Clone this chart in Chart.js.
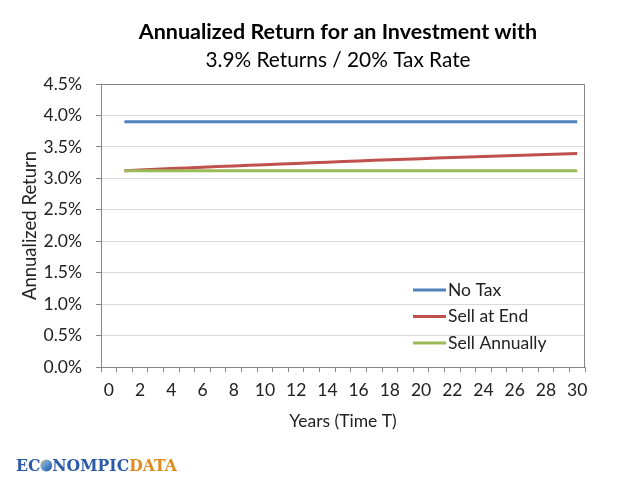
<!DOCTYPE html>
<html>
<head>
<meta charset="utf-8">
<script src="https://cdn.jsdelivr.net/npm/chart.js@4.4.1/dist/chart.umd.min.js"></script>
<style>
  html, body { margin: 0; padding: 0; background: #fff; }
  #wrap { width: 640px; height: 477px; position: relative; }
</style>
</head>
<body>
<div id="wrap"><canvas id="returnChart"></canvas></div>
<script>
// Datos (en %)
const years = ['0','1','2','3','4','5','6','7','8','9','10','11','12','13','14','15',
  '16','17','18','19','20','21','22','23','24','25','26','27','28','29','30'];

const noTax = [null, 3.90, 3.90, 3.90, 3.90, 3.90, 3.90, 3.90, 3.90, 3.90, 3.90,
  3.90, 3.90, 3.90, 3.90, 3.90, 3.90, 3.90, 3.90, 3.90, 3.90,
  3.90, 3.90, 3.90, 3.90, 3.90, 3.90, 3.90, 3.90, 3.90, 3.90];

const sellAtEnd = [null, 3.120, 3.132, 3.143, 3.155, 3.166, 3.176, 3.187, 3.197, 3.207, 3.217,
  3.227, 3.237, 3.247, 3.257, 3.267, 3.276, 3.286, 3.295, 3.304, 3.313,
  3.322, 3.331, 3.340, 3.348, 3.357, 3.364, 3.371, 3.379, 3.386, 3.393];

const sellAnnually = [null, 3.12, 3.12, 3.12, 3.12, 3.12, 3.12, 3.12, 3.12, 3.12, 3.12,
  3.12, 3.12, 3.12, 3.12, 3.12, 3.12, 3.12, 3.12, 3.12, 3.12,
  3.12, 3.12, 3.12, 3.12, 3.12, 3.12, 3.12, 3.12, 3.12, 3.12];

const seriesNames = ['No Tax', 'Sell at End', 'Sell Annually'];
const seriesColors = ['#4F81BD', '#C0504D', '#9BBB59'];

const yTicks = { min: 0, max: 4.5, step: 0.5 };

const titleText = 'Annualized Return for an Investment with';
const subtitleText = '3.9% Returns / 20% Tax Rate';

const FONT = 'Lato, "Open Sans", sans-serif';
const AXIS_GRAY = '#868686';
const TEXT_SIZE = 17.5;

// Título, borde del área y leyenda dibujados a mano
const decorPlugin = {
  id: 'decor',
  afterDraw(chart) {
    const { ctx, chartArea: a } = chart;
    ctx.save();

    // borde superior y derecho
    ctx.strokeStyle = AXIS_GRAY;
    ctx.lineWidth = 1;
    ctx.beginPath();
    ctx.moveTo(a.left, a.top + 0.5);
    ctx.lineTo(a.right - 0.5, a.top + 0.5);
    ctx.lineTo(a.right - 0.5, a.bottom);
    ctx.stroke();

    // títulos
    ctx.fillStyle = '#000';
    ctx.textAlign = 'center';
    ctx.textBaseline = 'middle';
    ctx.font = 'bold 21.5px ' + FONT;
    ctx.fillText(titleText, 338, 32);
    ctx.font = '20.8px ' + FONT;
    ctx.fillText(subtitleText, 338, 60);

    // leyenda dentro del área
    ctx.font = TEXT_SIZE + 'px ' + FONT;
    ctx.textAlign = 'left';
    const lx = 413, rowY = [290, 316.5, 343];
    seriesNames.forEach((name, i) => {
      ctx.strokeStyle = seriesColors[i];
      ctx.lineWidth = 3;
      ctx.beginPath();
      ctx.moveTo(lx, rowY[i]);
      ctx.lineTo(lx + 33, rowY[i]);
      ctx.stroke();
      ctx.fillStyle = '#222';
      ctx.fillText(name, lx + 35, rowY[i]);
    });

    // logo
    drawLogo(ctx);
    ctx.restore();
  }
};

function drawLogo(ctx) {
  ctx.save();
  ctx.font = 'bold 16px "DejaVu Serif", serif';
  ctx.textAlign = 'left';
  ctx.textBaseline = 'alphabetic';
  const parts = ['EC', null, 'NOMPIC', 'DATA'];
  const globeW = 12;
  const widths = parts.map(p => p === null ? globeW : ctx.measureText(p).width);
  const total = widths.reduce((s, w) => s + w, 0);
  const sx = 161 / total;
  ctx.translate(16, 471);
  ctx.scale(sx, 1);
  let x = 0;
  parts.forEach((p, i) => {
    if (p === null) {
      const cx = x + globeW / 2, cy = -5.5, r = 6;
      const g = ctx.createLinearGradient(cx - r, cy - r, cx + r, cy + r);
      g.addColorStop(0, '#f2b233');
      g.addColorStop(0.35, '#6aa3d8');
      g.addColorStop(1, '#1f4f9c');
      ctx.fillStyle = g;
      ctx.beginPath();
      ctx.arc(cx, cy, r, 0, Math.PI * 2);
      ctx.fill();
    } else {
      ctx.fillStyle = i === 3 ? '#E08A1E' : '#2B5BA6';
      ctx.fillText(p, x, 0);
    }
    x += widths[i];
  });
  ctx.restore();
}

function initializeReturnChart() {
  const ctx = document.getElementById('returnChart');
  if (!ctx) return;

  const seriesData = [noTax, sellAtEnd, sellAnnually];

  const data = {
    labels: years,
    datasets: seriesNames.map((name, i) => ({
      label: name,
      data: seriesData[i],
      borderColor: seriesColors[i],
      backgroundColor: seriesColors[i],
      borderWidth: 3,
      pointRadius: 0,
      tension: 0,
      order: i === 2 ? -1 : i
    }))
  };

  new Chart(ctx, {
    type: 'line',
    data: data,
    plugins: [decorPlugin],
    options: {
      responsive: true,
      maintainAspectRatio: false,
      animation: false,
      layout: { padding: { left: 12, right: 55, top: 84, bottom: 40 } },
      plugins: {
        legend: { display: false },
        tooltip: { enabled: false },
        title: { display: false }
      },
      scales: {
        x: {
          type: 'category',
          offset: true,
          afterFit: (scale) => { scale.height = 70; },
          grid: {
            offset: true,
            drawOnChartArea: false,
            tickLength: 5,
            tickColor: AXIS_GRAY
          },
          border: { color: AXIS_GRAY, width: 1 },
          ticks: {
            autoSkip: false,
            maxRotation: 0,
            padding: 8,
            color: '#222',
            font: { family: FONT, size: TEXT_SIZE },
            callback: function (value, index) {
              return index % 2 === 0 ? this.getLabelForValue(value) : '';
            }
          },
          title: {
            display: true,
            text: 'Years (Time T)',
            color: '#222',
            font: { family: FONT, size: TEXT_SIZE },
            padding: { top: 0, bottom: 5.5 }
          }
        },
        y: {
          type: 'linear',
          min: yTicks.min,
          max: yTicks.max,
          afterFit: (scale) => { scale.width = 89; },
          grid: {
            color: '#D9D9D9',
            tickLength: 5,
            tickColor: AXIS_GRAY
          },
          border: { color: AXIS_GRAY, width: 1 },
          ticks: {
            stepSize: yTicks.step,
            padding: 14,
            color: '#222',
            font: { family: FONT, size: TEXT_SIZE },
            callback: (v) => v.toFixed(1) + '%'
          },
          title: {
            display: true,
            text: 'Annualized Return',
            color: '#222',
            font: { family: FONT, size: 18.5 },
            padding: { top: 7, bottom: 0 }
          }
        }
      }
    }
  });
}

initializeReturnChart();
</script>
</body>
</html>
